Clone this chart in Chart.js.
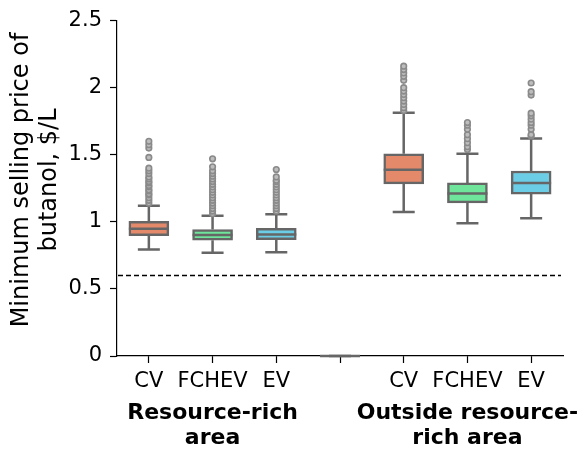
<!DOCTYPE html>
<html lang="en">
<head>
    <meta charset="UTF-8">
    <title>Minimum selling price of butanol</title>
    <script src="https://cdn.jsdelivr.net/npm/chart.js"></script>
    <style>
        html, body {
            margin: 0;
            padding: 0;
            background: #ffffff;
        }
        .chart-box {
            width: 582px;
            height: 450px;
        }
    </style>
</head>
<body>

    <div class="chart-box">
        <canvas id="boxChart"></canvas>
    </div>

    <script>
        // Data
        const categories = ['CV', 'FCHEV', 'EV', '', 'CV', 'FCHEV', 'EV'];
        const groupLabels = [['Resource-rich', 'area'], ['Outside resource-', 'rich area']];
        const groupCenters = [1, 5];
        const yTitle = ['Minimum selling price of', 'butanol, $/L'];
        const yTicks = [0, 0.5, 1, 1.5, 2, 2.5];

        const whiskerLow  = [0.794, 0.769, 0.774, 0, 1.074, 0.990, 1.027];
        const q1          = [0.897, 0.863, 0.868, 0, 1.283, 1.141, 1.207];
        const medians     = [0.949, 0.902, 0.905, 0, 1.389, 1.212, 1.290];
        const q3          = [1.003, 0.942, 0.951, 0, 1.507, 1.290, 1.379];
        const whiskerHigh = [1.119, 1.045, 1.057, 0, 1.814, 1.507, 1.622];

        const outliers = [
            [1.14, 1.16, 1.18, 1.20, 1.21, 1.23, 1.24, 1.26, 1.27, 1.29, 1.30, 1.32, 1.335, 1.36, 1.38, 1.40, 1.48, 1.55, 1.575, 1.60],
            [1.06, 1.08, 1.10, 1.12, 1.14, 1.16, 1.18, 1.20, 1.22, 1.24, 1.26, 1.28, 1.30, 1.32, 1.34, 1.36, 1.38, 1.41, 1.47],
            [1.08, 1.10, 1.12, 1.14, 1.16, 1.18, 1.20, 1.22, 1.24, 1.26, 1.28, 1.30, 1.31, 1.335, 1.39],
            [],
            [1.83, 1.85, 1.875, 1.90, 1.925, 1.95, 1.975, 2.00, 2.055, 2.085, 2.11, 2.135, 2.16],
            [1.54, 1.56, 1.59, 1.62, 1.65, 1.69, 1.72, 1.74],
            [1.64, 1.65, 1.69, 1.72, 1.74, 1.765, 1.79, 1.81, 1.945, 1.97, 2.035]
        ];

        const thresholdPrice = 0.6;

        // Styles
        const boxColors = ['#e5896b', '#6ee59a', '#6ccde6', '#ffffff', '#e5896b', '#6ee59a', '#6ccde6'];
        const edgeColor = '#666666';
        const edgeWidth = 2.5;
        const boxWidth = 40;
        const capWidth = 22;

        Chart.defaults.font.family = "'DejaVu Sans', sans-serif";
        Chart.defaults.font.size = 21;
        Chart.defaults.color = '#000000';

        const boxData = categories.map((c, i) => ({ x: i, y: [q1[i], q3[i]] }));
        const outlierData = [];
        outliers.forEach((list, i) => {
            list.forEach(v => outlierData.push({ x: i, y: v }));
        });

        // whiskers, caps, medians, dashed line and the extra labels
        const boxParts = {
            id: 'boxParts',
            beforeDatasetsDraw(chart) {
                const { ctx, chartArea, scales: { x, y } } = chart;
                ctx.save();

                // dashed reference line
                ctx.strokeStyle = '#000000';
                ctx.lineWidth = 1.5;
                ctx.setLineDash([5, 3]);
                const yLine = y.getPixelForValue(thresholdPrice);
                ctx.beginPath();
                ctx.moveTo(chartArea.left + 1, yLine);
                ctx.lineTo(chartArea.right - 2, yLine);
                ctx.stroke();
                ctx.setLineDash([]);

                ctx.strokeStyle = edgeColor;
                ctx.lineWidth = edgeWidth;
                categories.forEach((c, i) => {
                    const xc = x.getPixelForValue(i);
                    const yLo = y.getPixelForValue(whiskerLow[i]);
                    const yHi = y.getPixelForValue(whiskerHigh[i]);
                    ctx.beginPath();
                    ctx.moveTo(xc, y.getPixelForValue(q1[i]));
                    ctx.lineTo(xc, yLo);
                    ctx.moveTo(xc, y.getPixelForValue(q3[i]));
                    ctx.lineTo(xc, yHi);
                    ctx.moveTo(xc - capWidth / 2, yLo);
                    ctx.lineTo(xc + capWidth / 2, yLo);
                    ctx.moveTo(xc - capWidth / 2, yHi);
                    ctx.lineTo(xc + capWidth / 2, yHi);
                    ctx.stroke();
                });
                ctx.restore();
            },
            afterDatasetsDraw(chart) {
                const { ctx, scales: { x, y } } = chart;
                ctx.save();
                ctx.strokeStyle = edgeColor;
                ctx.lineWidth = edgeWidth;
                categories.forEach((c, i) => {
                    const xc = x.getPixelForValue(i);
                    const ym = y.getPixelForValue(medians[i]);
                    ctx.beginPath();
                    ctx.moveTo(xc - boxWidth / 2, ym);
                    ctx.lineTo(xc + boxWidth / 2, ym);
                    ctx.stroke();
                });
                ctx.restore();
            },
            afterDraw(chart) {
                const { ctx, scales: { x } } = chart;
                ctx.save();
                ctx.fillStyle = '#000000';
                ctx.textAlign = 'center';

                // group names under the ticks
                ctx.font = "bold 22px 'DejaVu Sans', sans-serif";
                ctx.textBaseline = 'alphabetic';
                groupLabels.forEach((lines, g) => {
                    const xc = x.getPixelForValue(groupCenters[g]);
                    lines.forEach((t, k) => {
                        ctx.fillText(t, xc, 419 + k * 25);
                    });
                });

                // y axis title, a bit above the axis middle like the original
                ctx.font = "24px 'DejaVu Sans', sans-serif";
                ctx.textBaseline = 'middle';
                ctx.translate(22, 180);
                ctx.rotate(-Math.PI / 2);
                yTitle.forEach((t, k) => {
                    ctx.fillText(t, 0, k * 27.6);
                });
                ctx.restore();
            }
        };

        new Chart(document.getElementById('boxChart'), {
            type: 'bar',
            data: {
                datasets: [{
                    data: boxData,
                    backgroundColor: boxColors,
                    borderColor: edgeColor,
                    borderWidth: edgeWidth,
                    borderSkipped: false,
                    barThickness: boxWidth,
                    order: 1
                }, {
                    type: 'scatter',
                    data: outlierData,
                    pointRadius: 2.8,
                    pointBorderWidth: 1.6,
                    pointBorderColor: '#8a8a8a',
                    pointBackgroundColor: '#bdbdbd',
                    order: 0
                }]
            },
            options: {
                responsive: true,
                maintainAspectRatio: false,
                animation: false,
                layout: {
                    padding: { top: 17, right: 19, bottom: 0, left: 0 }
                },
                plugins: {
                    legend: { display: false },
                    tooltip: { enabled: false }
                },
                scales: {
                    x: {
                        type: 'linear',
                        offset: false,
                        min: -0.5,
                        max: 6.5,
                        afterBuildTicks: axis => {
                            axis.ticks = categories.map((c, i) => ({ value: i }));
                        },
                        afterFit: scale => { scale.height = 94; },
                        ticks: {
                            callback: value => categories[value],
                            padding: 6,
                            maxRotation: 0,
                            autoSkip: false
                        },
                        grid: {
                            offset: false,
                            drawOnChartArea: false,
                            tickLength: 7,
                            tickWidth: 1.2,
                            color: '#000000'
                        },
                        border: { color: '#000000', width: 1.2 }
                    },
                    y: {
                        min: 0,
                        max: 2.5,
                        afterBuildTicks: axis => {
                            axis.ticks = yTicks.map(v => ({ value: v }));
                        },
                        afterFit: scale => { scale.width = 117; },
                        ticks: {
                            padding: 8,
                            callback: value => String(value)
                        },
                        grid: {
                            drawOnChartArea: false,
                            tickLength: 7,
                            tickWidth: 1.2,
                            color: '#000000'
                        },
                        border: { color: '#000000', width: 1.2 }
                    }
                }
            },
            plugins: [boxParts]
        });
    </script>

</body>
</html>
